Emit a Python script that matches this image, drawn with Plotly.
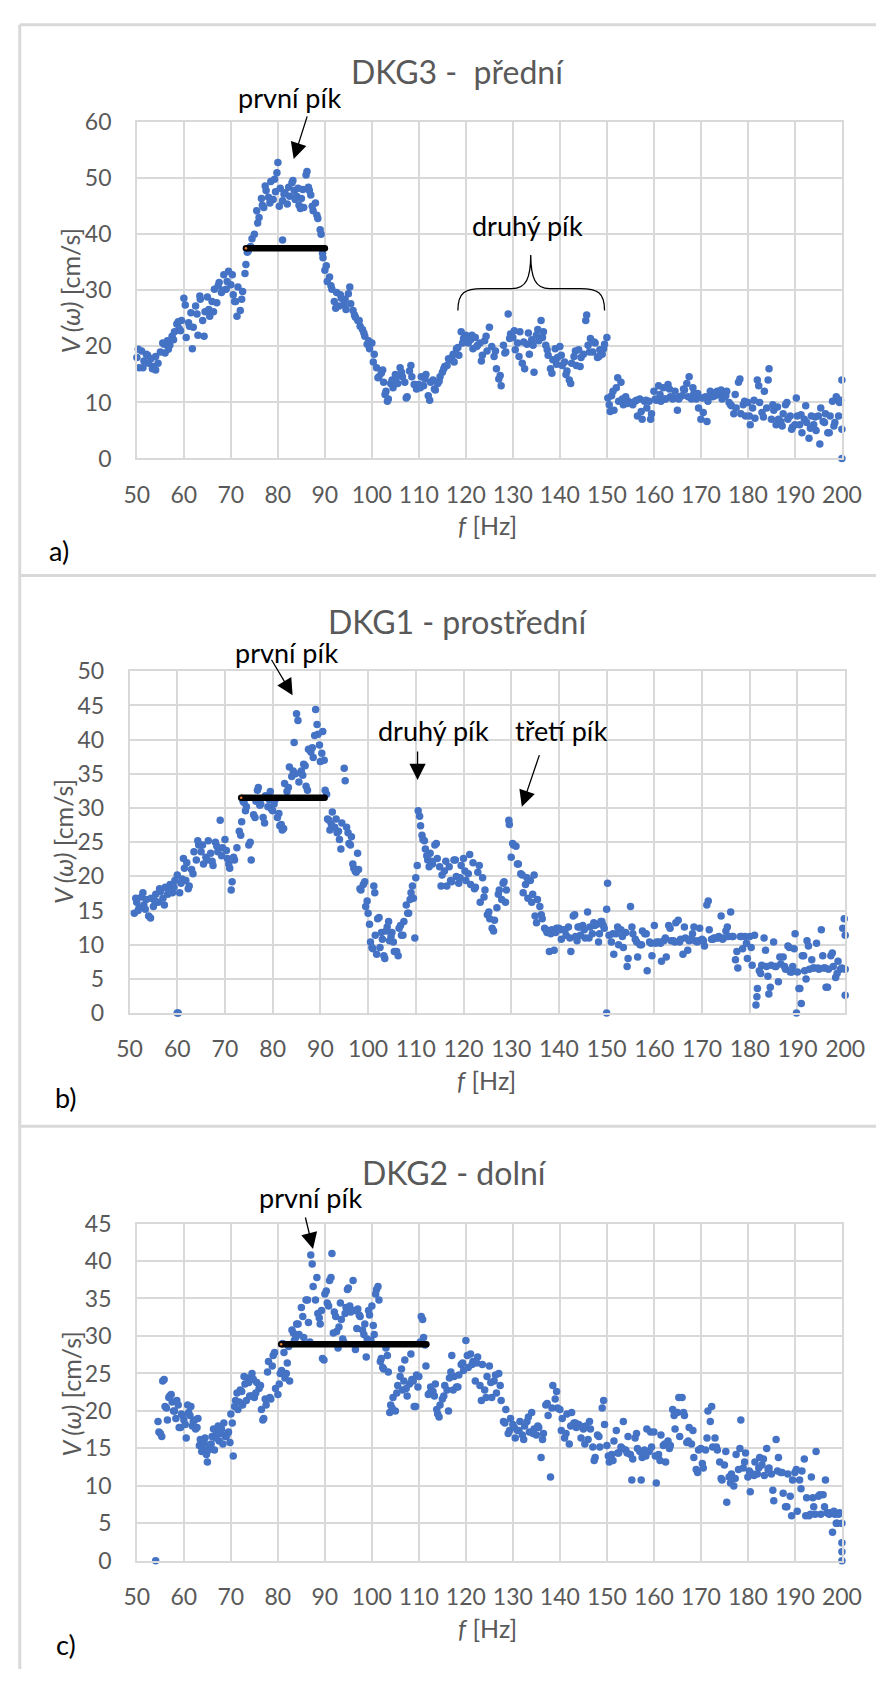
import plotly.graph_objects as go

W, H = 896, 1682
FONT = "Lato, 'Liberation Sans', Arial, sans-serif"
GRID = "#d9d9d9"
TXT = "#595959"
BLUE = "#4472c4"

# shared frequency bins [Hz]
freq_hz = [
    50, 50.5, 51, 51.5, 52, 52.5, 53, 53.5, 54, 54.5,
    55, 55.5, 56, 56.5, 57, 57.5, 58, 58.5, 59, 59.5,
    60, 60.5, 61, 61.5, 62, 62.5, 63, 63.5, 64, 64.5,
    65, 65.5, 66, 66.5, 67, 67.5, 68, 68.5, 69, 69.5,
    70, 70.5, 71, 71.5, 72, 72.5, 73, 73.5, 74, 74.5,
    75, 75.5, 76, 76.5, 77, 77.5, 78, 78.5, 79, 79.5,
    80, 80.5, 81, 81.5, 82, 82.5, 83, 83.5, 84, 84.5,
    85, 85.5, 86, 86.5, 87, 87.5, 88, 88.5, 89, 89.5,
    90, 90.5, 91, 91.5, 92, 92.5, 93, 93.5, 94, 94.5,
    95, 95.5, 96, 96.5, 97, 97.5, 98, 98.5, 99, 99.5,
    100, 100.5, 101, 101.5, 102, 102.5, 103, 103.5, 104, 104.5,
    105, 105.5, 106, 106.5, 107, 107.5, 108, 108.5, 109, 109.5,
    110, 110.5, 111, 111.5, 112, 112.5, 113, 113.5, 114, 114.5,
    115, 115.5, 116, 116.5, 117, 117.5, 118, 118.5, 119, 119.5,
    120, 120.5, 121, 121.5, 122, 122.5, 123, 123.5, 124, 124.5,
    125, 125.5, 126, 126.5, 127, 127.5, 128, 128.5, 129, 129.5,
    130, 130.5, 131, 131.5, 132, 132.5, 133, 133.5, 134, 134.5,
    135, 135.5, 136, 136.5, 137, 137.5, 138, 138.5, 139, 139.5,
    140, 140.5, 141, 141.5, 142, 142.5, 143, 143.5, 144, 144.5,
    145, 145.5, 146, 146.5, 147, 147.5, 148, 148.5, 149, 149.5,
    150, 150.5, 151, 151.5, 152, 152.5, 153, 153.5, 154, 154.5,
    155, 155.5, 156, 156.5, 157, 157.5, 158, 158.5, 159, 159.5,
    160, 160.5, 161, 161.5, 162, 162.5, 163, 163.5, 164, 164.5,
    165, 165.5, 166, 166.5, 167, 167.5, 168, 168.5, 169, 169.5,
    170, 170.5, 171, 171.5, 172, 172.5, 173, 173.5, 174, 174.5,
    175, 175.5, 176, 176.5, 177, 177.5, 178, 178.5, 179, 179.5,
    180, 180.5, 181, 181.5, 182, 182.5, 183, 183.5, 184, 184.5,
    185, 185.5, 186, 186.5, 187, 187.5, 188, 188.5, 189, 189.5,
    190, 190.5, 191, 191.5, 192, 192.5, 193, 193.5, 194, 194.5,
    195, 195.5, 196, 196.5, 197, 197.5, 198, 198.5, 199, 199.5,
    200,
]

# DKG3 - front sensor, V(omega) [cm/s]
v_dkg3 = [
    18.0, 16.2, 19.2, 17.4, 18.6, 17.0, 17.8, 16.4, 18.2, 17.0,
    19.0, 20.6, 18.8, 21.0, 20.2, 21.8, 22.6, 24.0, 23.2, 24.6,
    28.6, 21.6, 24.2, 26.0, 23.4, 27.2, 22.0, 28.4, 24.6, 26.2,
    28.8, 25.4, 28.0, 30.2, 27.8, 31.4, 29.6, 32.8, 30.2, 33.4,
    31.0, 29.2, 28.0, 30.6, 26.4, 29.8, 33.0, 36.8, 37.6, 39.2,
    40.0, 44.2, 43.0, 46.4, 44.8, 47.8, 46.6, 49.4, 46.2, 47.6,
    52.8, 48.2, 46.0, 47.4, 45.4, 46.8, 49.2, 47.8, 46.8, 45.2,
    46.4, 44.8, 50.6, 48.4, 47.0, 44.2, 45.6, 42.8, 40.8, 36.6,
    33.6, 31.6, 32.4, 30.2, 28.0, 29.6, 27.2, 28.6, 27.4, 26.6,
    29.4, 27.6, 26.4, 25.2, 24.6, 23.6, 23.0, 21.8, 20.4, 19.6,
    20.6, 18.6, 16.2, 14.6, 15.2, 13.6, 12.0, 10.6, 13.4, 12.6,
    15.0, 13.4, 16.2, 14.6, 13.6, 11.0, 15.6, 14.6, 13.2, 12.4,
    13.2, 14.6, 13.0, 15.0, 11.2, 13.6, 14.0, 12.2, 13.4, 14.6,
    15.4, 16.4, 16.6, 17.6, 18.0, 17.2, 19.6, 18.4, 22.6, 21.4,
    22.0, 20.6, 21.2, 19.6, 21.6, 20.2, 20.6, 18.4, 21.0, 19.2,
    23.4, 20.0, 18.2, 16.0, 14.2, 13.0, 20.2, 19.0, 25.8, 22.2,
    21.6, 19.4, 20.6, 22.6, 17.0, 16.0, 20.4, 18.6, 21.2, 15.4,
    22.0, 21.0, 24.6, 22.6, 20.2, 18.4, 16.0, 17.6, 19.6, 18.0,
    20.0, 16.6, 17.2, 15.6, 14.0, 17.0, 18.2, 16.6, 19.4, 18.0,
    18.6, 24.6, 20.2, 21.4, 19.0, 20.6, 18.0, 19.4, 18.6, 20.4,
    21.6, 9.6, 11.2, 8.6, 12.6, 10.2, 13.6, 9.6, 11.0, 10.2,
    10.0, 9.6, 10.2, 7.6, 10.6, 7.0, 10.2, 9.0, 10.2, 8.0,
    12.0, 10.4, 13.0, 10.2, 12.6, 10.6, 13.2, 11.0, 10.6, 12.0,
    8.6, 11.0, 11.2, 12.2, 13.4, 14.6, 10.6, 11.6, 10.6, 9.0,
    7.0, 8.2, 11.0, 10.2, 12.0, 11.0, 11.2, 12.0, 11.4, 10.6,
    11.0, 12.0, 10.0, 9.4, 8.0, 9.0, 13.6, 8.0, 9.6, 7.6,
    10.0, 6.0, 9.0, 7.2, 14.0, 10.0, 8.2, 12.0, 9.0, 16.0,
    7.0, 8.6, 6.0, 7.0, 6.6, 8.0, 9.6, 7.0, 7.6, 5.6,
    6.0, 7.6, 6.0, 4.6, 7.0, 6.4, 3.6, 7.6, 6.0, 5.0,
    7.6, 9.0, 6.6, 8.0, 4.6, 7.6, 10.2, 6.4, 10.6, 10.0,
    14.0,
]

# DKG1 - middle sensor
v_dkg1 = [
    None, None, 14.6, 16.2, 15.4, 17.0, 15.8, 16.6, 14.2, 16.8,
    15.6, 17.4, 16.2, 17.8, 16.8, 18.4, 17.4, 18.8, 17.6, 19.4,
    20.2, 17.6, 19.6, 21.2, 22.0, 18.6, 21.0, 23.6, 22.4, 24.6,
    23.6, 21.8, 22.8, 25.2, 23.4, 21.6, 25.0, 23.6, 28.2, 24.2,
    25.4, 22.6, 21.2, 19.2, 22.4, 24.2, 26.6, 28.0, 30.8, 30.2,
    24.6, 22.4, 29.0, 31.0, 33.0, 30.6, 28.6, 31.8, 30.2, 32.4,
    29.6, 31.2, 28.6, 27.4, 26.8, 33.6, 32.4, 36.0, 34.6, 39.6,
    43.8, 33.8, 35.4, 36.4, 33.2, 38.6, 38.2, 37.4, 44.4, 40.8,
    36.8, 41.2, 32.6, 28.4, 26.8, 29.4, 27.2, 26.4, 25.4, 27.8,
    35.8, 27.2, 24.8, 25.8, 21.2, 20.6, 21.0, 18.0, 18.8, 15.6,
    14.6, 10.4, 9.4, 11.4, 13.8, 9.6, 10.8, 8.0, 12.6, 10.6,
    11.8, 9.0, 9.0, 12.4, 11.4, 13.4, 15.8, 14.6, 17.6, 16.8,
    19.8, 29.6, 27.4, 25.4, 24.0, 22.4, 23.4, 21.8, 24.6, 22.6,
    21.4, 20.2, 20.8, 18.6, 21.4, 19.2, 22.4, 20.0, 19.0, 21.6,
    22.6, 19.4, 20.4, 18.8, 22.0, 18.4, 20.6, 16.2, 19.8, 18.0,
    14.4, 13.8, 12.4, 13.6, 15.4, 18.0, 16.6, 19.2, 18.0, 28.2,
    22.8, 24.6, 24.4, 21.8, 20.4, 17.6, 18.8, 16.8, 19.4, 17.4,
    14.2, 16.6, 15.6, 13.8, 12.4, 11.8, 9.0, 12.2, 9.2, 12.4,
    12.4, 10.8, 12.2, 11.4, 12.6, 9.0, 14.2, 11.2, 12.6, 11.4,
    12.8, 11.0, 14.8, 12.6, 11.6, 12.8, 13.0, 11.6, 13.4, 12.4,
    15.2, 11.4, 10.4, 8.6, 11.6, 10.0, 12.2, 9.6, 11.8, 8.0,
    15.6, 11.6, 10.8, 8.2, 10.0, 12.0, 11.6, 6.2, 10.4, 8.4,
    12.8, 10.4, 10.4, 7.6, 10.6, 8.2, 12.8, 10.6, 10.6, 13.2,
    13.6, 10.8, 8.6, 11.0, 9.2, 10.8, 11.6, 10.6, 10.4, 12.4,
    10.8, 9.8, 15.8, 12.2, 10.8, 11.0, 11.0, 11.2, 14.2, 11.0,
    12.0, 11.2, 14.8, 11.2, 7.8, 6.6, 11.2, 9.4, 11.2, 8.0,
    11.2, 7.0, 11.4, 2.4, 6.2, 7.0, 11.0, 6.8, 2.8, 7.0,
    10.4, 6.8, 4.6, 7.2, 8.2, 6.4, 9.8, 6.0, 6.8, 11.6,
    6.0, 3.6, 8.4, 6.2, 10.6, 6.4, 7.8, 6.6, 10.2, 6.4,
    12.2, 6.6, 3.8, 6.4, 8.4, 6.8, 5.2, 7.6, 6.4, 12.4,
    11.4,
]

# DKG2 - lower sensor
v_dkg2 = [
    None, None, None, None, None, None, None, None, None, 18.6,
    17.0, 24.0, 20.6, 18.8, 22.0, 21.2, 20.0, 21.4, 17.8, 19.6,
    18.8, 16.4, 19.8, 20.6, 18.6, 17.6, 19.0, 16.2, 15.0, 16.4,
    13.2, 15.4, 16.6, 14.8, 17.2, 16.0, 17.6, 18.4, 16.6, 17.2,
    19.6, 14.0, 21.4, 20.2, 22.8, 20.8, 23.6, 24.4, 22.0, 25.0,
    21.8, 23.8, 23.0, 20.2, 19.0, 20.8, 26.6, 21.6, 27.4, 23.0,
    22.2, 25.0, 29.0, 24.4, 26.4, 24.0, 30.8, 29.4, 31.6, 30.2,
    33.8, 29.8, 34.8, 31.8, 40.8, 36.6, 34.8, 33.0, 31.6, 27.0,
    35.6, 34.4, 37.4, 41.0, 33.2, 30.6, 31.2, 32.2, 29.2, 33.8,
    36.4, 33.2, 37.4, 28.2, 33.6, 32.6, 30.8, 31.6, 29.6, 32.8,
    34.0, 30.2, 36.2, 34.8, 27.0, 25.6, 28.4, 25.2, 20.8, 21.8,
    20.0, 23.4, 24.6, 22.8, 26.8, 22.0, 23.6, 24.2, 20.6, 24.8,
    24.6, 32.6, 29.8, 26.0, 22.2, 23.2, 22.6, 23.6, 19.6, 20.8,
    21.6, 23.4, 22.8, 24.4, 27.4, 24.6, 23.2, 24.8, 26.2, 25.4,
    29.4, 25.8, 27.6, 26.6, 24.0, 27.2, 23.4, 26.2, 22.8, 24.6,
    26.0, 21.8, 24.0, 22.4, 25.0, 21.4, 18.6, 20.2, 17.0, 19.0,
    18.2, 16.4, 17.4, 18.6, 16.8, 18.0, 18.6, 17.2, 19.8, 17.6,
    16.8, 17.8, 13.8, 17.0, 20.8, 19.4, 11.2, 23.4, 21.6, 20.4,
    20.2, 19.0, 16.4, 19.6, 15.6, 19.8, 18.4, 17.8, 18.2, 16.4,
    17.6, 18.0, 16.2, 17.6, 15.2, 13.8, 16.8, 15.2, 20.4, 18.2,
    15.4, 13.2, 14.2, 16.0, 17.4, 14.4, 15.2, 18.6, 14.8, 16.6,
    14.2, 13.6, 16.4, 15.0, 14.6, 13.8, 14.8, 17.6, 14.6, 15.2,
    17.2, 10.4, 14.2, 16.8, 15.4, 13.2, 16.0, 15.4, 20.2, 17.6,
    19.8, 16.6, 21.8, 19.4, 15.8, 17.8, 15.6, 13.8, 12.2, 14.8,
    15.0, 12.4, 14.8, 20.0, 18.6, 15.2, 16.4, 14.8, 13.2, 10.8,
    12.8, 7.8, 11.2, 11.6, 10.0, 14.2, 12.2, 18.8, 12.4, 14.4,
    11.2, 9.2, 11.6, 13.2, 11.6, 13.8, 12.8, 11.4, 15.0, 12.4,
    11.6, 8.0, 16.2, 13.8, 11.8, 9.0, 7.2, 11.6, 8.6, 10.8,
    11.8, 6.6, 10.8, 12.0, 13.6, 8.4, 6.0, 11.2, 7.2, 14.6,
    8.6, 6.2, 8.8, 10.8, 6.4, 6.4, 3.8, 6.2, 5.0, 6.4,
    2.4,
]

# additional samples between the bins (f [Hz], V [cm/s])
extra_dkg3 = [
    (50.3, 19.5), (51.3, 16.2), (52.3, 18.4), (53.3, 16.0), (54.0, 15.8), (55.8, 20.4),
    (56.7, 19.5), (57.8, 21.2), (58.8, 24.4), (59.3, 22.8), (60.3, 27.4), (61.2, 23.6),
    (61.8, 19.6), (62.8, 25.8), (63.4, 29.0), (64.3, 21.8), (65.3, 26.6), (66.3, 26.2),
    (67.3, 30.8), (68.3, 30.0), (69.2, 31.6), (70.3, 32.8), (70.8, 28.0), (71.3, 25.4),
    (72.3, 28.4), (73.2, 34.6), (73.7, 37.0), (74.2, 37.8), (75.7, 42.0), (76.7, 45.2),
    (77.3, 48.6), (78.3, 45.6), (79.3, 49.8), (79.8, 51.0), (80.3, 45.0), (81.0, 39.0),
    (81.3, 47.2), (82.3, 48.4), (83.2, 49.6), (83.7, 46.2), (84.3, 48.2), (84.8, 44.6),
    (85.3, 48.0), (86.2, 51.2), (86.7, 47.8), (87.3, 45.0), (88.3, 43.4), (89.2, 40.0),
    (89.6, 35.8), (90.3, 34.4), (91.3, 30.8), (92.3, 26.8), (93.3, 29.2), (94.3, 28.4),
    (95.3, 30.6), (96.3, 25.6), (97.3, 24.6), (98.3, 22.4), (99.3, 21.0), (100.3, 17.2),
    (101.3, 14.4), (102.3, 15.8), (102.8, 11.4), (103.3, 10.2), (104.3, 14.0), (105.3, 14.6),
    (106.3, 15.4), (107.3, 10.8), (108.3, 16.6), (109.3, 13.2), (110.3, 12.6), (111.3, 14.2),
    (112.3, 10.4), (113.3, 12.4), (114.3, 13.8), (115.3, 16.0), (116.3, 17.8), (117.3, 18.6),
    (118.3, 19.8), (119.3, 20.6), (120.3, 21.4), (121.3, 22.0), (122.3, 20.0), (123.3, 17.4),
    (124.3, 21.8), (126.3, 19.2), (127.3, 14.8), (128.3, 18.8), (129.3, 21.4), (130.3, 22.8),
    (131.3, 18.2), (132.3, 20.8), (133.3, 22.4), (134.3, 20.2), (135.3, 23.0), (136.3, 21.6),
    (137.3, 19.4), (138.3, 15.2), (139.3, 16.8), (140.3, 18.4), (141.3, 15.0), (142.3, 13.4),
    (143.3, 19.2), (144.3, 16.4), (145.7, 25.6), (146.3, 19.0), (147.3, 20.8), (148.3, 18.2),
    (149.3, 19.6), (150.2, 10.8), (150.7, 8.4), (151.3, 12.0), (152.3, 14.4), (153.3, 10.6),
    (154.3, 9.8), (156.3, 10.4), (157.3, 8.4), (158.3, 10.4), (159.3, 7.0), (160.3, 10.6),
    (161.3, 11.4), (162.3, 10.6), (163.3, 12.4), (164.3, 10.8), (165.3, 10.6), (166.3, 12.4),
    (167.3, 11.0), (168.3, 12.6), (169.3, 11.6), (170.3, 10.8), (171.3, 6.6), (172.3, 11.2),
    (173.3, 11.8), (174.3, 12.2), (175.3, 11.2), (176.3, 9.6), (177.3, 11.4), (178.3, 14.2),
    (179.3, 10.2), (180.3, 7.6), (181.3, 10.4), (182.3, 13.0), (183.3, 7.4), (184.3, 14.0),
    (185.3, 9.6), (186.3, 9.2), (187.3, 5.8), (188.3, 10.0), (189.3, 5.2), (190.3, 10.8),
    (191.3, 7.8), (192.3, 9.4), (193.3, 5.4), (194.3, 7.4), (195.3, 2.6), (196.3, 6.4),
    (197.3, 4.6), (198.3, 5.8), (198.8, 11.0), (199.3, 7.6), (199.7, 10.4), (200.0, 5.2),
    (200.0, 0.0),
]

extra_dkg1 = [
    (51.3, 16.8), (51.8, 15.0), (52.8, 17.6), (53.3, 15.2), (54.4, 13.9), (55.3, 16.4),
    (56.3, 18.2), (57.3, 15.8), (58.3, 17.8), (59.3, 18.4), (60.0, 0.0), (60.2, 0.0),
    (60.8, 19.0), (61.3, 22.6), (61.8, 19.4), (62.3, 18.2), (63.3, 20.4), (64.3, 25.2),
    (65.3, 24.6), (66.3, 22.4), (67.3, 22.2), (68.3, 24.4), (69.3, 23.0), (70.3, 23.8),
    (70.8, 21.8), (71.3, 18.0), (71.8, 22.8), (73.3, 26.0), (73.8, 31.0), (74.3, 29.6),
    (75.3, 25.0), (76.3, 28.6), (76.8, 32.6), (77.3, 30.4), (78.3, 27.8), (79.3, 31.2),
    (79.8, 29.8), (80.3, 30.6), (81.3, 29.2), (81.8, 27.6), (82.3, 27.0), (83.3, 33.0),
    (84.3, 35.4), (84.8, 35.0), (85.3, 42.8), (86.3, 34.8), (86.8, 36.2), (87.3, 32.6),
    (88.3, 38.8), (88.8, 40.6), (89.3, 42.2), (89.8, 39.2), (90.3, 38.0), (90.8, 37.0),
    (91.3, 32.0), (91.8, 28.2), (92.3, 27.6), (93.3, 28.4), (93.8, 26.6), (94.3, 24.0),
    (95.2, 34.0), (95.8, 26.4), (96.3, 24.6), (96.8, 21.8), (97.3, 20.8), (97.8, 23.4),
    (98.3, 18.2), (99.3, 19.2), (99.8, 16.4), (100.3, 13.0), (100.8, 9.6), (101.2, 18.6),
    (101.4, 17.6), (101.8, 8.6), (102.3, 14.0), (102.8, 11.8), (103.3, 8.4), (103.8, 12.0),
    (104.3, 13.4), (104.8, 11.2), (105.3, 10.4), (106.3, 8.4), (106.8, 12.8), (107.3, 11.4),
    (108.3, 14.6), (108.8, 16.6), (109.3, 18.6), (109.8, 11.0), (110.3, 21.6), (110.8, 28.8),
    (111.3, 26.0), (111.8, 25.2), (112.3, 23.0), (112.8, 21.4), (113.3, 22.2), (114.3, 24.8),
    (115.3, 18.6), (116.3, 22.2), (117.3, 19.4), (118.3, 22.4), (119.3, 19.8), (120.3, 20.8),
    (121.3, 23.2), (122.3, 18.2), (123.3, 21.6), (124.3, 17.0), (125.3, 14.8), (126.3, 12.0),
    (127.3, 17.4), (128.3, 19.0), (128.8, 16.2), (129.6, 27.6), (130.3, 24.8), (131.3, 21.8),
    (132.3, 20.2), (133.3, 19.8), (134.3, 16.2), (134.8, 20.2), (135.3, 13.2), (136.3, 14.4),
    (137.3, 12.2), (138.3, 11.6), (139.3, 11.8), (140.3, 12.2), (141.3, 12.2), (142.3, 11.0),
    (143.3, 14.4), (143.8, 10.6), (144.3, 12.6), (145.3, 12.2), (146.3, 11.0), (147.3, 13.2),
    (148.3, 10.4), (148.8, 13.4), (149.3, 12.8), (150.0, 0.0), (150.2, 19.0), (151.3, 11.6),
    (152.3, 12.6), (153.3, 11.2), (154.3, 6.8), (155.3, 12.6), (156.3, 10.4), (157.3, 10.0),
    (158.3, 11.6), (159.3, 10.2), (160.3, 10.2), (161.3, 10.2), (162.3, 11.0), (163.3, 12.4),
    (164.3, 10.4), (165.3, 10.4), (166.3, 12.6), (167.3, 10.6), (168.3, 12.6), (169.3, 10.6),
    (170.3, 10.6), (171.3, 16.4), (172.3, 10.8), (173.3, 11.0), (174.3, 10.8), (175.3, 12.6),
    (176.3, 11.2), (177.3, 9.0), (178.3, 11.2), (179.3, 10.2), (180.3, 9.6), (181.3, 1.2),
    (181.6, 3.6), (182.3, 5.8), (183.3, 9.2), (183.8, 5.4), (184.3, 3.8), (185.3, 6.8),
    (186.3, 8.2), (187.3, 6.8), (188.3, 9.6), (188.8, 6.0), (189.3, 9.4), (189.8, 0.0),
    (190.3, 3.6), (190.8, 1.4), (191.3, 8.4), (191.8, 5.0), (192.3, 9.8), (193.3, 6.6),
    (194.3, 6.6), (195.3, 8.4), (195.8, 6.6), (196.3, 3.8), (197.3, 8.8), (198.3, 5.8),
    (199.3, 6.6), (199.8, 13.8), (200.0, 6.4), (200.0, 2.6),
]

extra_dkg2 = [
    (54.0, 0.0), (54.7, 17.2), (55.3, 16.6), (55.8, 24.2), (56.3, 20.4), (56.8, 21.8),
    (57.3, 22.2), (57.8, 20.0), (58.3, 19.0), (58.8, 20.8), (59.3, 17.8), (59.8, 19.4),
    (60.3, 18.2), (60.8, 20.8), (61.3, 19.4), (61.8, 18.0), (62.3, 18.8), (62.8, 17.8),
    (63.3, 15.4), (63.8, 14.6), (64.3, 15.8), (64.8, 14.2), (65.3, 14.8), (65.8, 15.6),
    (66.3, 17.6), (66.8, 16.4), (67.3, 18.0), (67.8, 17.0), (68.3, 15.6), (68.8, 16.6),
    (69.3, 17.0), (69.8, 15.8), (70.3, 18.4), (70.8, 20.6), (71.3, 22.4), (71.8, 21.2),
    (72.3, 22.6), (72.8, 24.6), (73.3, 21.4), (73.8, 23.8), (74.3, 22.0), (74.8, 24.2),
    (75.3, 22.4), (76.3, 23.4), (76.8, 18.8), (77.3, 21.6), (77.8, 25.2), (78.3, 21.8),
    (78.8, 26.0), (79.3, 27.8), (80.3, 23.6), (80.8, 25.4), (81.3, 27.8), (81.8, 25.0),
    (82.3, 28.6), (83.3, 30.4), (83.8, 29.8), (84.3, 31.6), (85.3, 32.6), (86.3, 34.8),
    (86.8, 29.2), (87.3, 39.6), (88.3, 37.8), (88.8, 32.4), (89.3, 33.4), (89.8, 26.8),
    (90.3, 36.0), (90.8, 34.0), (91.3, 37.8), (91.8, 30.4), (92.3, 32.6), (92.8, 28.4),
    (93.3, 34.4), (93.8, 29.6), (94.3, 33.0), (94.8, 36.2), (95.3, 34.0), (96.3, 33.4),
    (96.8, 31.0), (97.3, 32.8), (98.3, 30.2), (98.8, 27.2), (99.3, 33.4), (99.8, 29.4),
    (100.3, 31.4), (100.8, 35.6), (101.3, 36.6), (101.8, 26.6), (102.3, 25.8), (103.3, 27.4),
    (103.8, 19.8), (104.3, 20.4), (105.3, 22.4), (106.3, 25.6), (106.8, 24.0), (107.3, 23.0),
    (108.3, 27.6), (108.8, 24.0), (109.3, 20.6), (109.8, 23.2), (110.3, 29.2), (110.8, 32.2),
    (111.3, 28.8), (112.3, 22.4), (113.3, 22.0), (113.8, 20.2), (114.3, 19.2), (115.3, 22.0),
    (116.3, 20.0), (116.8, 25.2), (117.3, 22.8), (118.3, 23.2), (119.3, 26.4), (120.3, 27.4),
    (121.3, 26.2), (122.3, 26.4), (123.3, 21.4), (124.3, 21.8), (125.3, 23.8), (126.3, 24.8),
    (127.3, 23.4), (128.3, 18.4), (129.3, 17.4), (130.3, 17.8), (131.3, 17.4), (132.3, 16.2),
    (133.3, 19.2), (134.3, 17.0), (135.3, 18.0), (136.3, 16.2), (137.3, 21.0), (138.3, 20.4),
    (139.3, 22.6), (140.3, 17.4), (141.3, 17.0), (142.3, 18.0), (143.3, 18.4), (144.3, 18.0),
    (145.3, 15.6), (146.3, 18.6), (147.3, 13.4), (148.3, 16.6), (149.3, 21.4), (150.3, 14.0),
    (151.3, 13.4), (152.3, 14.4), (153.3, 15.0), (154.3, 14.4), (155.3, 10.8), (156.3, 17.0),
    (157.3, 10.8), (158.3, 14.0), (159.3, 17.2), (160.3, 14.0), (161.3, 13.4), (162.3, 15.6),
    (163.3, 15.0), (164.3, 19.4), (165.3, 21.8), (166.3, 19.8), (167.3, 16.0), (168.3, 17.4),
    (169.3, 11.8), (170.3, 13.0), (171.3, 16.4), (172.3, 20.6), (173.3, 15.2), (174.3, 11.0),
    (175.3, 14.6), (176.3, 10.4), (177.3, 11.0), (178.3, 15.0), (179.3, 13.2), (180.3, 12.0),
    (181.3, 11.4), (182.3, 12.4), (183.3, 13.6), (184.3, 12.2), (185.3, 9.4), (186.3, 12.0),
    (187.3, 11.8), (188.3, 7.2), (189.3, 6.0), (190.3, 12.2), (191.3, 9.6), (192.3, 6.0),
    (193.3, 6.2), (193.8, 8.4), (194.3, 6.2), (195.3, 8.8), (196.3, 7.2), (196.8, 6.4),
    (197.3, 6.2), (198.3, 6.6), (198.8, 5.0), (199.3, 6.2), (200.0, 5.0), (200.0, 1.2),
    (200.0, 0.0),
]

# peak band: (f_start, f_end, level)
band_dkg3 = (73.2, 90.0, 37.5)
band_dkg1 = (73.4, 90.9, 31.5)
band_dkg2 = (80.7, 111.6, 28.9)

titles = ["DKG3 -  přední", "DKG1 - prostřední", "DKG2 - dolní"]
y_max = [60, 50, 45]
y_step = [10, 5, 5]
panel_tags = ["a)", "b)", "c)"]


def px(x):
    return x / W


def py(y):
    return 1 - y / H


# plot areas in pixels: (left, right, top, bottom)
areas = [(128.6, 860.6, 109, 451), (121, 864, 667.4, 1015), (128.6, 860.6, 1229, 1572)]

series = [(v_dkg3, extra_dkg3, band_dkg3), (v_dkg1, extra_dkg1, band_dkg1), (v_dkg2, extra_dkg2, band_dkg2)]

fig = go.Figure()
layout = dict(
    width=W, height=H, margin=dict(l=0, r=0, t=0, b=0),
    paper_bgcolor="white", plot_bgcolor="white", showlegend=False,
    font=dict(family=FONT, color=TXT),
)

for i, ((vals, extra, band), (l, r, t, b)) in enumerate(zip(series, areas)):
    n = "" if i == 0 else str(i + 1)
    xs = [f for f, v in zip(freq_hz, vals) if v is not None] + [p[0] for p in extra]
    ys = [v for v in vals if v is not None] + [p[1] for p in extra]
    fig.add_trace(go.Scatter(
        x=xs, y=ys, mode="markers", xaxis="x" + n, yaxis="y" + n,
        marker=dict(size=7.5, color=BLUE, line=dict(width=0)), cliponaxis=False,
    ))
    f0, f1, lvl = band
    fig.add_trace(go.Scatter(
        x=[f0, f1], y=[lvl, lvl], mode="lines+markers", xaxis="x" + n, yaxis="y" + n,
        line=dict(color="black", width=6.5), marker=dict(size=6.5, color="black"),
        cliponaxis=False,
    ))
    fig.add_trace(go.Scatter(
        x=[f0], y=[lvl], mode="markers", xaxis="x" + n, yaxis="y" + n,
        marker=dict(size=2.5, color="#ed7d31"), cliponaxis=False,
    ))
    layout["xaxis" + n] = dict(
        domain=[px(l), px(r)], anchor="y" + n, range=[50, 200], tick0=50, dtick=10,
        showgrid=True, gridcolor=GRID, gridwidth=1.5, zeroline=False,
        showline=True, linecolor=GRID, linewidth=1.5, mirror=True, ticks="",
        tickfont=dict(family=FONT, size=23, color=TXT), ticklabelstandoff=15,
    )
    layout["yaxis" + n] = dict(
        domain=[py(b), py(t)], anchor="x" + n, range=[0, y_max[i]], tick0=0, dtick=y_step[i],
        showgrid=True, gridcolor=GRID, gridwidth=1.5, zeroline=False,
        showline=True, linecolor=GRID, linewidth=1.5, mirror=True, ticks="",
        tickfont=dict(family=FONT, size=23, color=TXT), ticklabelstandoff=19,
    )

fig.update_layout(**layout)

ann = []
# chart titles
for txt, (x, y) in zip(titles, [(461, 57), (462, 617), (458, 1177)]):
    ann.append(dict(text=txt, x=px(x), y=py(y), xref="paper", yref="paper", showarrow=False,
                    xanchor="center", yanchor="middle", font=dict(size=32, color=TXT, family=FONT)))
# axis titles
for (x, y) in [(60, 280), (52, 841), (60, 1402)]:
    ann.append(dict(text="<i>V (ω)</i> [cm/s]", x=px(x), y=py(y), xref="paper", yref="paper",
                    showarrow=False, textangle=-90, xanchor="center", yanchor="middle",
                    font=dict(size=25, color=TXT, family=FONT)))
for (x, y) in [(493, 519), (492, 1083), (493, 1640)]:
    ann.append(dict(text="<i>f</i> [Hz]", x=px(x), y=py(y), xref="paper", yref="paper",
                    showarrow=False, xanchor="center", yanchor="middle",
                    font=dict(size=25, color=TXT, family=FONT)))
# panel tags
for tag, (x, y) in zip(panel_tags, [(48, 545), (55, 1101), (55, 1657)]):
    ann.append(dict(text=tag, x=px(x), y=py(y), xref="paper", yref="paper", showarrow=False,
                    xanchor="center", yanchor="middle", font=dict(size=27, color="black", family=FONT)))
# peak labels
for txt, (x, y) in [("první pík", (287, 84)), ("druhý pík", (534, 214)), ("první pík", (284, 648)),
                    ("druhý pík", (437, 728)), ("třetí pík", (569, 728)), ("první pík", (309, 1203))]:
    ann.append(dict(text=txt, x=px(x), y=py(y), xref="paper", yref="paper", showarrow=False,
                    xanchor="center", yanchor="middle", font=dict(size=27, color="black", family=FONT)))
# arrows pointing at the peaks (head in data units, tail offset in pixels)
for n, hx, hy, ax, ay in [("", 83.36, 53.45, 14, -44), ("2", 84.18, 46.5, -22, -37),
                          ("2", 110.37, 34.1, 0, -30), ("2", 132.23, 30.2, 18, -53),
                          ("3", 87.48, 41.6, -8, -33)]:
    ann.append(dict(x=hx, y=hy, xref="x" + n, yref="y" + n, ax=ax, ay=ay, text="",
                    showarrow=True, arrowhead=2, arrowsize=2.5, arrowwidth=1.3,
                    arrowcolor="black", standoff=0))
fig.update_layout(annotations=ann)

shapes = [
    # curly brace over the second peak region
    dict(type="path", xref="x", yref="y",
         path="M118.3,26.4 C118.3,29.6 119.8,30.3 123.5,30.3 L129.8,30.3 "
              "C132.8,30.3 133.8,32.2 133.8,36.3 C133.8,32.2 134.8,30.3 137.8,30.3 "
              "L144.3,30.3 C148.0,30.3 149.5,29.6 149.5,26.4",
         line=dict(color="black", width=1.3)),
]
# frames around the three panels
for y in [10, 570, 1130]:
    shapes.append(dict(type="line", xref="paper", yref="paper", x0=px(7), x1=1, y0=py(y), y1=py(y),
                       line=dict(color=GRID, width=3)))
shapes.append(dict(type="line", xref="paper", yref="paper", x0=px(7), x1=px(7), y0=py(10), y1=0,
                   line=dict(color=GRID, width=3)))
fig.update_layout(shapes=shapes)

fig.write_html(
    "out.html",
    config={"responsive": False, "displayModeBar": False},
    post_script="document.body.style.margin='0';document.body.style.overflow='hidden';",
)
